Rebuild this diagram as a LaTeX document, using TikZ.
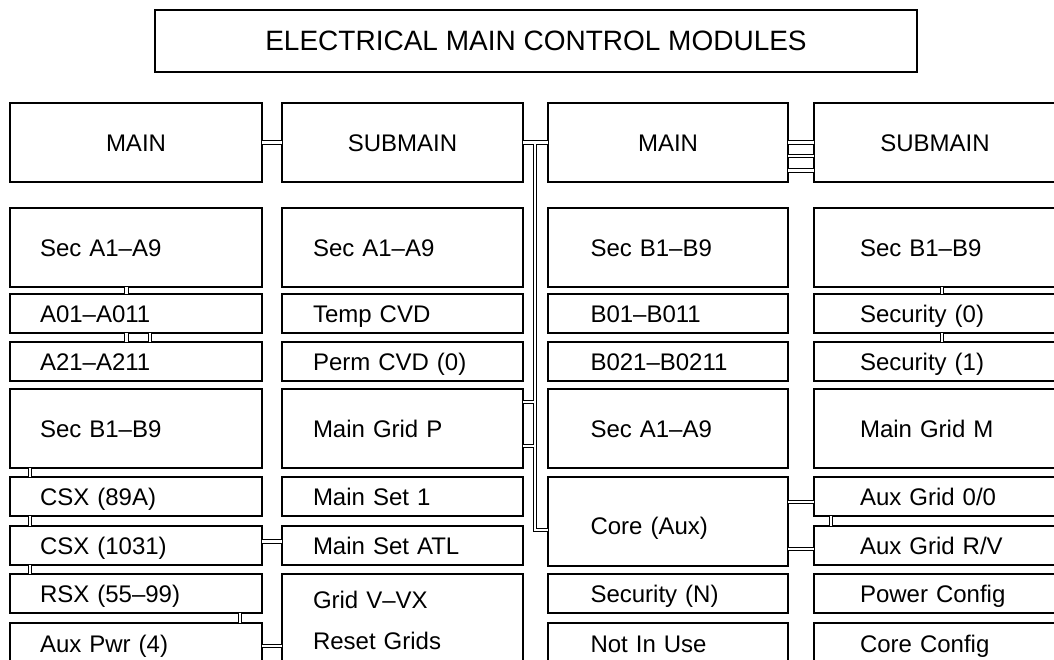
\documentclass[tikz,border=0pt]{standalone}
\usepackage{fontspec}
\setmainfont{Liberation Sans}
\usepackage{tikz}
\usetikzlibrary{positioning}

\begin{document}
\begin{tikzpicture}[
  x=1pt, y=-1pt,
  box/.style={draw, line width=1.3pt, outer sep=0pt, font=\fontsize{24}{29}\selectfont, inner ysep=0pt},
  line/.style={box, text height=17pt, text depth=0pt},
  head/.style={line, align=center, minimum height=79pt},
  big/.style={line, align=left, minimum height=79pt},
  small/.style={line, align=left, minimum height=39pt},
  last/.style={small, minimum height=41pt},
  cola/.style={text width=192pt, inner xsep=30pt},
  colb/.style={text width=179pt, inner xsep=31pt},
  colc/.style={text width=155pt, inner xsep=42.5pt},
  cold/.style={text width=150pt, inner xsep=46pt},
  link/.style={double, double distance=2.6pt, line width=1.1pt}
]
\useasboundingbox (0,0) rectangle (1054,659);
\clip (0,0) rectangle (1054,659);

\node[box, font=\fontsize{28}{33}\selectfont, minimum width=762pt, minimum height=62pt, inner xsep=0pt] (title) at (536,41) {ELECTRICAL MAIN CONTROL MODULES};

\node[head, cola, anchor=north west] (m1) at (10,103) {MAIN};
\node[head, colb, right=20pt of m1] (s1) {SUBMAIN};
\node[head, colc, right=25pt of s1] (m2) {MAIN};
\node[head, cold, right=26pt of m2] (s2) {SUBMAIN};

\node[big, cola, below=26pt of m1] (a19) {Sec A1--A9};
\node[small, cola, below=7pt of a19] (a01) {A01--A011};
\node[small, cola, below=9pt of a01] (a21) {A21--A211};
\node[big, cola, below=8pt of a21] (b19) {Sec B1--B9};
\node[small, cola, below=9pt of b19] (csxa) {CSX (89A)};
\node[small, cola, below=10pt of csxa] (csxb) {CSX (1031)};
\node[small, cola, below=9pt of csxb] (rsx) {RSX (55--99)};
\node[last, cola, below=10pt of rsx] (auxpwr) {Aux Pwr (4)};

\node[big, colb, right=20pt of a19] (sa19) {Sec A1--A9};
\node[small, colb, right=20pt of a01] (tempcvd) {Temp CVD};
\node[small, colb, right=20pt of a21] (permcvd) {Perm CVD (0)};
\node[big, colb, right=20pt of b19] (gridp) {Main Grid P};
\node[small, colb, right=20pt of csxa] (set1) {Main Set 1};
\node[small, colb, right=20pt of csxb] (setatl) {Main Set ATL};
\node[box, colb, align=left, minimum height=93pt, below=9pt of setatl] (gridv) {Grid V--VX\\[12pt]Reset Grids};

\node[big, colc, right=25pt of sa19] (mb19) {Sec B1--B9};
\node[small, colc, right=25pt of tempcvd] (b01) {B01--B011};
\node[small, colc, right=25pt of permcvd] (b021) {B021--B0211};
\node[big, colc, right=25pt of gridp] (ma19) {Sec A1--A9};
\node[line, colc, align=left, minimum height=89pt, text height=25pt, below=9pt of ma19] (core) {Core (Aux)};
\node[small, colc, below=8pt of core] (secn) {Security (N)};
\node[last, colc, below=10pt of secn] (notuse) {Not In Use};

\node[big, cold, right=26pt of mb19] (sb19) {Sec B1--B9};
\node[small, cold, right=26pt of b01] (sec0) {Security (0)};
\node[small, cold, right=26pt of b021] (sec1) {Security (1)};
\node[big, cold, right=26pt of ma19] (gridm) {Main Grid M};
\node[small, cold, below=9pt of gridm] (aux00) {Aux Grid 0/0};
\node[small, cold, below=10pt of aux00] (auxrv) {Aux Grid R/V};
\node[small, cold, right=26pt of secn] (pwrcfg) {Power Config};
\node[last, cold, right=26pt of notuse] (corecfg) {Core Config};

\coordinate (tap) at (535,142.5);
\coordinate (bend) at (535,530);

\draw[link] (m1) -- (s1);
\draw[link] (s1) -- (m2) (tap) |- (core.west |- bend)
  (gridp.east |- 0,402) -- (tap |- 0,402)
  (gridp.east |- 0,446) -- (tap |- 0,446);
\draw[link] (m2) -- (s2)
  ([yshift=-13.5pt]m2.east) -- ([yshift=-13.5pt]s2.west)
  ([yshift=-28pt]m2.east) -- ([yshift=-28pt]s2.west);

\draw[link] ([xshift=-9.5pt]a19.south) -- ([xshift=-9.5pt]a01.north);
\draw[link] ([xshift=-9.5pt]a01.south) -- ([xshift=-9.5pt]a21.north);
\draw[link] ([xshift=14pt]a01.south) -- ([xshift=14pt]a21.north);
\draw[link] ([xshift=-106pt]b19.south) -- ([xshift=-106pt]csxa.north);
\draw[link] ([xshift=-106pt]csxa.south) -- ([xshift=-106pt]csxb.north);
\draw[link] ([xshift=-106pt]csxb.south) -- ([xshift=-106pt]rsx.north);
\draw[link] ([xshift=104pt]rsx.south) -- ([xshift=104pt]auxpwr.north);
\draw[link] ([yshift=4pt]csxb.east) -- ([yshift=4pt]setatl.west);
\draw[link] (auxpwr.east |- 0,646) -- (gridv.west |- 0,646);

\draw[link] ([xshift=7pt]sb19.south) -- ([xshift=7pt]sec0.north);
\draw[link] ([xshift=7pt]sec0.south) -- ([xshift=7pt]sec1.north);
\draw[link] ([xshift=-104pt]aux00.south) -- ([xshift=-104pt]auxrv.north);
\draw[link] (core.east |- 0,502) -- (aux00.west |- 0,502);
\draw[link] (core.east |- 0,549) -- (auxrv.west |- 0,549);
\end{tikzpicture}
\end{document}
